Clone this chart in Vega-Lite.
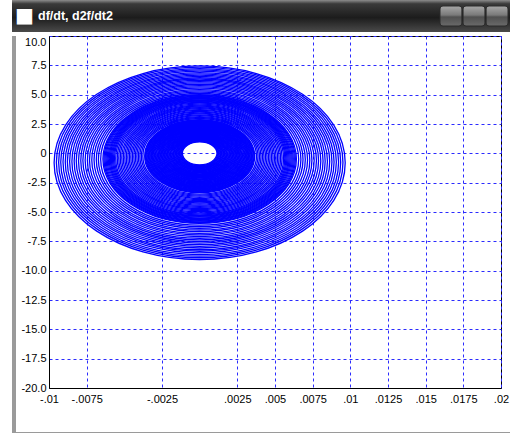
{
  "$schema": "https://vega.github.io/schema/vega-lite/v6.json",
  "background": "#ffffff",
  "padding": {"left": 12, "top": 0, "right": 0, "bottom": 0},
  "spacing": 3,
  "config": {
    "font": "Liberation Sans",
    "view": {"stroke": null},
    "concat": {"spacing": 0}
  },
  "vconcat": [
    {
      "width": 498,
      "height": 32,
      "resolve": {"scale": {"x": "independent", "y": "independent"}},
      "layer": [
        {
          "data": {"values": [{"title": "df/dt, d2f/dt2"}]},
          "mark": {"type": "rect", "fill": {"gradient": "linear", "x1": 0, "y1": 0, "x2": 0, "y2": 1, "stops": [{"offset": 0, "color": "#8c8c8c"}, {"offset": 0.12, "color": "#3a3a3a"}, {"offset": 0.55, "color": "#1c1c1c"}, {"offset": 1, "color": "#4a4a4a"}]}},
          "encoding": {}
        },
        {
          "data": {"values": [{"btn": "min", "row": "bar"}, {"btn": "max", "row": "bar"}, {"btn": "close", "row": "bar"}]},
          "mark": {"type": "rect", "cornerRadius": 3, "stroke": "#2a2a2a", "strokeWidth": 1, "fill": {"gradient": "linear", "x1": 0, "y1": 0, "x2": 0, "y2": 1, "stops": [{"offset": 0, "color": "#a8a8a8"}, {"offset": 0.45, "color": "#7a7a7a"}, {"offset": 0.55, "color": "#505050"}, {"offset": 1, "color": "#6a6a6a"}]}},
          "encoding": {
            "x": {"field": "btn", "type": "nominal", "sort": null, "axis": null, "scale": {"type": "band", "paddingInner": 0.05, "paddingOuter": 0, "range": [428, 496]}},
            "y": {"field": "row", "type": "nominal", "axis": null, "scale": {"type": "band", "paddingInner": 0, "paddingOuter": 0.3}}
          }
        },
        {
          "data": {"values": [{"title": "df/dt, d2f/dt2"}]},
          "mark": {"type": "text", "text": "■", "color": "#ffffff", "fontSize": 20, "align": "left", "baseline": "middle", "dx": 3, "font": "DejaVu Sans"},
          "encoding": {"x": {"field": "title", "type": "nominal", "axis": null, "scale": {"type": "point", "padding": 0, "align": 0}}}
        },
        {
          "data": {"values": [{"title": "df/dt, d2f/dt2"}]},
          "mark": {"type": "text", "color": "#ffffff", "fontWeight": "bold", "fontSize": 12.5, "align": "left", "baseline": "middle", "dx": 26},
          "encoding": {
            "x": {"field": "title", "type": "nominal", "axis": null, "scale": {"type": "point", "padding": 0, "align": 0}},
            "text": {"field": "title"}
          }
        }
      ]
    },
    {
      "spacing": 0,
      "vconcat": [
        {
          "spacing": 4,
          "hconcat": [
            {
              "width": 4,
              "height": 396,
              "data": {"values": [{"part": "frame"}]},
              "mark": {"type": "rect", "color": "#9a9a9a"},
              "encoding": {}
            },
            {
              "width": 452,
              "height": 352,
              "view": {"stroke": "#000000", "strokeWidth": 1},
              "data": {"values": [
                {"x": 0, "y": 0.00, "rx": 0.00115},
                {"x": 0, "y": -0.01, "rx": 0.00120},
                {"x": 0, "y": -0.01, "rx": 0.00125},
                {"x": 0, "y": -0.02, "rx": 0.00130},
                {"x": 0, "y": -0.02, "rx": 0.00135},
                {"x": 0, "y": -0.03, "rx": 0.00140},
                {"x": 0, "y": -0.03, "rx": 0.00145},
                {"x": 0, "y": -0.03, "rx": 0.00150},
                {"x": 0, "y": -0.04, "rx": 0.00155},
                {"x": 0, "y": -0.04, "rx": 0.00160},
                {"x": 0, "y": -0.05, "rx": 0.00165},
                {"x": 0, "y": -0.05, "rx": 0.00170},
                {"x": 0, "y": -0.06, "rx": 0.00175},
                {"x": 0, "y": -0.06, "rx": 0.00180},
                {"x": 0, "y": -0.07, "rx": 0.00185},
                {"x": 0, "y": -0.07, "rx": 0.00190},
                {"x": 0, "y": -0.08, "rx": 0.00195},
                {"x": 0, "y": -0.08, "rx": 0.00200},
                {"x": 0, "y": -0.09, "rx": 0.00205},
                {"x": 0, "y": -0.09, "rx": 0.00210},
                {"x": 0, "y": -0.09, "rx": 0.00215},
                {"x": 0, "y": -0.10, "rx": 0.00220},
                {"x": 0, "y": -0.10, "rx": 0.00225},
                {"x": 0, "y": -0.11, "rx": 0.00230},
                {"x": 0, "y": -0.11, "rx": 0.00235},
                {"x": 0, "y": -0.12, "rx": 0.00240},
                {"x": 0, "y": -0.12, "rx": 0.00245},
                {"x": 0, "y": -0.13, "rx": 0.00250},
                {"x": 0, "y": -0.13, "rx": 0.00255},
                {"x": 0, "y": -0.14, "rx": 0.00260},
                {"x": 0, "y": -0.14, "rx": 0.00265},
                {"x": 0, "y": -0.15, "rx": 0.00270},
                {"x": 0, "y": -0.15, "rx": 0.00275},
                {"x": 0, "y": -0.16, "rx": 0.00280},
                {"x": 0, "y": -0.16, "rx": 0.00285},
                {"x": 0, "y": -0.16, "rx": 0.00290},
                {"x": 0, "y": -0.17, "rx": 0.00295},
                {"x": 0, "y": -0.17, "rx": 0.00300},
                {"x": 0, "y": -0.18, "rx": 0.00305},
                {"x": 0, "y": -0.18, "rx": 0.00310},
                {"x": 0, "y": -0.19, "rx": 0.00315},
                {"x": 0, "y": -0.19, "rx": 0.00320},
                {"x": 0, "y": -0.20, "rx": 0.00325},
                {"x": 0, "y": -0.20, "rx": 0.00330},
                {"x": 0, "y": -0.21, "rx": 0.00335},
                {"x": 0, "y": -0.21, "rx": 0.00340},
                {"x": 0, "y": -0.22, "rx": 0.00345},
                {"x": 0, "y": -0.22, "rx": 0.00350},
                {"x": 0, "y": -0.23, "rx": 0.00355},
                {"x": 0, "y": -0.23, "rx": 0.00360},
                {"x": 0, "y": -0.24, "rx": 0.00365},
                {"x": 0, "y": -0.25, "rx": 0.00377},
                {"x": 0, "y": -0.25, "rx": 0.00387},
                {"x": 0, "y": -0.26, "rx": 0.00397},
                {"x": 0, "y": -0.27, "rx": 0.00407},
                {"x": 0, "y": -0.28, "rx": 0.00417},
                {"x": 0, "y": -0.29, "rx": 0.00427},
                {"x": 0, "y": -0.30, "rx": 0.00437},
                {"x": 0, "y": -0.31, "rx": 0.00447},
                {"x": 0, "y": -0.32, "rx": 0.00457},
                {"x": 0, "y": -0.33, "rx": 0.00467},
                {"x": 0, "y": -0.34, "rx": 0.00477},
                {"x": 0, "y": -0.35, "rx": 0.00487},
                {"x": 0, "y": -0.36, "rx": 0.00497},
                {"x": 0, "y": -0.37, "rx": 0.00507},
                {"x": 0, "y": -0.38, "rx": 0.00517},
                {"x": 0, "y": -0.39, "rx": 0.00527},
                {"x": 0, "y": -0.39, "rx": 0.00537},
                {"x": 0, "y": -0.40, "rx": 0.00547},
                {"x": 0, "y": -0.41, "rx": 0.00557},
                {"x": 0, "y": -0.42, "rx": 0.00565},
                {"x": 0, "y": -0.43, "rx": 0.00572},
                {"x": 0, "y": -0.43, "rx": 0.00579},
                {"x": 0, "y": -0.44, "rx": 0.00586},
                {"x": 0, "y": -0.45, "rx": 0.00593},
                {"x": 0, "y": -0.45, "rx": 0.00600},
                {"x": 0, "y": -0.46, "rx": 0.00607},
                {"x": 0, "y": -0.47, "rx": 0.00614},
                {"x": 0, "y": -0.47, "rx": 0.00621},
                {"x": 0, "y": -0.48, "rx": 0.00628},
                {"x": 0, "y": -0.49, "rx": 0.00635},
                {"x": 0, "y": -0.49, "rx": 0.00642},
                {"x": 0, "y": -0.51, "rx": 0.00657},
                {"x": 0, "y": -0.52, "rx": 0.00672},
                {"x": 0, "y": -0.53, "rx": 0.00686},
                {"x": 0, "y": -0.55, "rx": 0.00701},
                {"x": 0, "y": -0.56, "rx": 0.00716},
                {"x": 0, "y": -0.58, "rx": 0.00731},
                {"x": 0, "y": -0.59, "rx": 0.00745},
                {"x": 0, "y": -0.60, "rx": 0.00760},
                {"x": 0, "y": -0.62, "rx": 0.00775},
                {"x": 0, "y": -0.63, "rx": 0.00789},
                {"x": 0, "y": -0.65, "rx": 0.00804},
                {"x": 0, "y": -0.66, "rx": 0.00819},
                {"x": 0, "y": -0.67, "rx": 0.00833},
                {"x": 0, "y": -0.69, "rx": 0.00848},
                {"x": 0, "y": -0.70, "rx": 0.00863},
                {"x": 0, "y": -0.72, "rx": 0.00878},
                {"x": 0, "y": -0.73, "rx": 0.00892},
                {"x": 0, "y": -0.74, "rx": 0.00907},
                {"x": 0, "y": -0.76, "rx": 0.00922},
                {"x": 0, "y": -0.77, "rx": 0.00936},
                {"x": 0, "y": -0.78, "rx": 0.00951},
                {"x": 0, "y": -0.80, "rx": 0.00966}
              ]},
              "mark": {
                "type": "point",
                "shape": "M-1,0C-1,-0.367,-0.552,-0.665,0,-0.665C0.552,-0.665,1,-0.367,1,0C1,0.367,0.552,0.665,0,0.665C-0.552,0.665,-1,0.367,-1,0Z",
                "filled": false,
                "stroke": "#0000ff",
                "strokeWidth": 1.3,
                "opacity": 1
              },
              "encoding": {
                "x": {
                  "field": "x",
                  "type": "quantitative",
                  "scale": {"domain": [-0.01, 0.02], "nice": false, "zero": false},
                  "axis": {
                    "title": null,
                    "values": [-0.01, -0.0075, -0.0025, 0.0025, 0.005, 0.0075, 0.01, 0.0125, 0.015, 0.0175, 0.02],
                    "labelExpr": "(datum.value < 0 ? '-' : '') + substring(format(abs(datum.value), '.4~f'), 1)",
                    "grid": true,
                    "gridColor": "#2b2bff",
                    "gridDash": [3, 3],
                    "gridWidth": 1,
                    "ticks": false,
                    "tickSize": 0,
                    "domainColor": "#000000",
                    "labelColor": "#000000",
                    "labelFontSize": 11,
                    "labelPadding": 5,
                    "labelFlush": false,
                    "labelOverlap": false
                  }
                },
                "y": {
                  "field": "y",
                  "type": "quantitative",
                  "scale": {"domain": [-20, 10], "nice": false, "zero": false},
                  "axis": {
                    "title": null,
                    "values": [-20, -17.5, -15, -12.5, -10, -7.5, -5, -2.5, 0, 2.5, 5, 7.5, 10],
                    "labelExpr": "datum.value == 0 ? '0' : (datum.value < 0 ? '-' : '') + format(abs(datum.value), '.1f')",
                    "grid": true,
                    "gridColor": "#2b2bff",
                    "gridDash": [3, 3],
                    "gridWidth": 1,
                    "ticks": false,
                    "tickSize": 0,
                    "domainColor": "#000000",
                    "labelColor": "#000000",
                    "labelFontSize": 11,
                    "labelPadding": 3,
                    "labelFlush": false,
                    "labelOverlap": false,
                    "labelBaseline": {"condition": {"test": "datum.value == 10", "value": "top"}, "value": "middle"}
                  }
                },
                "size": {
                  "field": "rx",
                  "type": "quantitative",
                  "scale": {"type": "pow", "exponent": 2, "domain": [0, 0.01], "range": [0, 90802]},
                  "legend": null
                }
              }
            }
          ]
        },
        {
          "width": 498,
          "height": 2,
          "data": {"values": [{"part": "frame"}]},
          "mark": {"type": "rect", "color": "#9a9a9a"},
          "encoding": {}
        }
      ]
    }
  ]
}
